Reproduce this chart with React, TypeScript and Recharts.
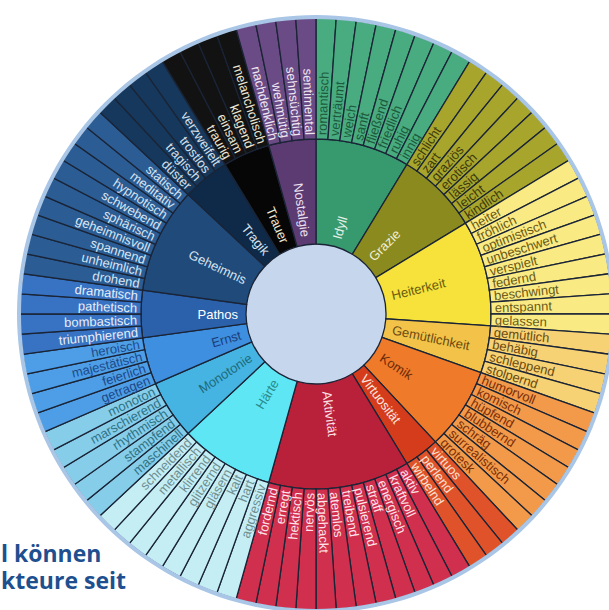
import React from 'react';
import { PieChart, Pie, Cell } from 'recharts';

const categories = [
  'Idyll', 'Grazie', 'Heiterkeit', 'Gemütlichkeit', 'Komik', 'Virtuosität', 'Aktivität',
  'Härte', 'Monotonie', 'Ernst', 'Pathos', 'Geheimnis', 'Tragik', 'Trauer', 'Nostalgie',
];

const idyll = ['romantisch', 'verträumt', 'weich', 'sanft', 'fließend', 'friedlich', 'ruhig', 'innig'];
const grazie = ['schlicht', 'zart', 'graziös', 'erotisch', 'lässig', 'leicht', 'kindlich'];
const heiterkeit = ['heiter', 'fröhlich', 'optimistisch', 'unbeschwert', 'verspielt', 'federnd', 'beschwingt', 'entspannt', 'gelassen'];
const gemuetlichkeit = ['gemütlich', 'behäbig', 'schleppend', 'stolpernd'];
const komik = ['humorvoll', 'komisch', 'hüpfend', 'blubbernd', 'schräg', 'surrealistisch', 'grotesk'];
const virtuositaet = ['virtuos', 'perlend', 'wirbelnd'];
const aktivitaet = ['aktiv', 'kraftvoll', 'energisch', 'straff', 'pulsierend', 'treibend', 'atemlos', 'abgehackt', 'nervös', 'hektisch', 'erregt', 'fordernd'];
const haerte = ['aggressiv', 'hart', 'kalt', 'gläsern', 'glitzernd', 'klirrend', 'metallisch', 'schneidend'];
const monotonie = ['maschinell', 'stampfend', 'rhythmisch', 'marschierend', 'monoton'];
const ernst = ['getragen', 'feierlich', 'majestätisch', 'heroisch'];
const pathos = ['triumphierend', 'bombastisch', 'pathetisch', 'dramatisch'];
const geheimnis = ['drohend', 'unheimlich', 'spannend', 'geheimnisvoll', 'sphärisch', 'schwebend', 'hypnotisch', 'meditativ', 'statisch'];
const tragik = ['düster', 'tragisch', 'trostlos', 'verzweifelt'];
const trauer = ['traurig', 'einsam', 'klagend', 'melancholisch'];
const nostalgie = ['nachdenklich', 'wehmütig', 'sehnsüchtig', 'sentimental'];

const wordGroups = [idyll, grazie, heiterkeit, gemuetlichkeit, komik, virtuositaet, aktivitaet, haerte, monotonie, ernst, pathos, geheimnis, tragik, trauer, nostalgie];

// colours per category
const innerFill = ['#379a6e', '#8b8a1f', '#f6e23a', '#f2c348', '#ef7a2a', '#d43c1c', '#b9203a', '#5ee6f4', '#45b4e2', '#3e8fe0', '#2b60aa', '#1f4a7a', '#0f2a48', '#060606', '#5b3b72'];
const outerFill = ['#48ac80', '#a8a52c', '#f9ea84', '#f6d274', '#f39a4a', '#e0532a', '#d02f4d', '#c4eef4', '#86cdea', '#4d9ee6', '#3872c2', '#2b5c94', '#16385c', '#121212', '#6b4b85'];
const innerInk = ['#e6f2ea', '#f0f0d8', '#6a5a10', '#6a4a10', '#6a2a08', '#fde8e0', '#fbe0e6', '#2a8a8a', '#1e6a7a', '#1a3e7a', '#ffffff', '#d8e4f2', '#d8e4f2', '#f0ead8', '#ece0f0'];
const outerInk = ['#1d5a3c', '#3d3b0c', '#6b5a16', '#6b4a10', '#7a2e08', '#fbe3d6', '#fde4ea', '#6f8f92', '#2f7386', '#1e4a8a', '#e8eef8', '#d8e4f2', '#d8e0ea', '#ece6d4', '#efe6f2'];

const innerData = categories.map((name, i) => ({ name, value: wordGroups[i].length, group: i }));
const outerData = wordGroups.flatMap((ws, i) => ws.map((w) => ({ name: w, value: 1, group: i })));

const RAD = Math.PI / 180;
const CX = 311;
const CY = 309;
const STROKE = '#1a2436';

const radialLabel = (r: number, inks: string[]) => (props: any) => {
  const { cx, cy, midAngle, payload } = props;
  const a = -midAngle * RAD;
  const x = cx + r * Math.cos(a);
  const y = cy + r * Math.sin(a);
  const right = Math.cos(midAngle * RAD) >= 0;
  const rot = right ? -midAngle : 180 - midAngle;
  return (
    <text
      x={x}
      y={y}
      transform={`rotate(${rot} ${x} ${y})`}
      textAnchor={right ? 'start' : 'end'}
      dominantBaseline="central"
      fontSize={13}
      fontFamily="'Liberation Sans', Arial, sans-serif"
      fill={inks[payload.group]}
    >
      {payload.name}
    </text>
  );
};

export default function App() {
  return (
    <div style={{ position: 'absolute', left: 0, top: 0, width: 609, height: 610, background: '#fff', overflow: 'hidden' }}>
      <PieChart width={609} height={610}>
        <Pie data={[{ value: 1 }]} dataKey="value" cx={CX} cy={CY} outerRadius={70} startAngle={90} endAngle={-270} fill="#c6d6ec" stroke="none" isAnimationActive={false} />
        <Pie
          data={innerData}
          dataKey="value"
          cx={CX}
          cy={CY}
          innerRadius={70}
          outerRadius={175}
          startAngle={90}
          endAngle={-270}
          isAnimationActive={false}
          labelLine={false}
          label={radialLabel(78, innerInk)}
        >
          {innerData.map((d, i) => (
            <Cell key={`in-${i}`} fill={innerFill[d.group]} stroke={STROKE} strokeWidth={1.3} />
          ))}
        </Pie>
        <Pie
          data={outerData}
          dataKey="value"
          cx={CX}
          cy={CY}
          innerRadius={175}
          outerRadius={296}
          startAngle={90}
          endAngle={-270}
          isAnimationActive={false}
          labelLine={false}
          label={radialLabel(179, outerInk)}
        >
          {outerData.map((d, i) => (
            <Cell key={`out-${i}`} fill={outerFill[d.group]} stroke={STROKE} strokeWidth={1.3} />
          ))}
        </Pie>
        <Pie data={[{ value: 1 }]} dataKey="value" cx={CX} cy={CY} innerRadius={295} outerRadius={299} startAngle={90} endAngle={-270} fill="#a9c6e6" stroke="none" isAnimationActive={false} />
      </PieChart>
      <div
        style={{
          position: 'absolute',
          left: 1,
          top: 540,
          fontFamily: "'Open Sans', sans-serif",
          fontWeight: 700,
          fontSize: 23,
          lineHeight: '27px',
          color: '#1e4f8f',
          whiteSpace: 'pre',
        }}
      >
        {'l können\nkteure seit'}
      </div>
    </div>
  );
}
